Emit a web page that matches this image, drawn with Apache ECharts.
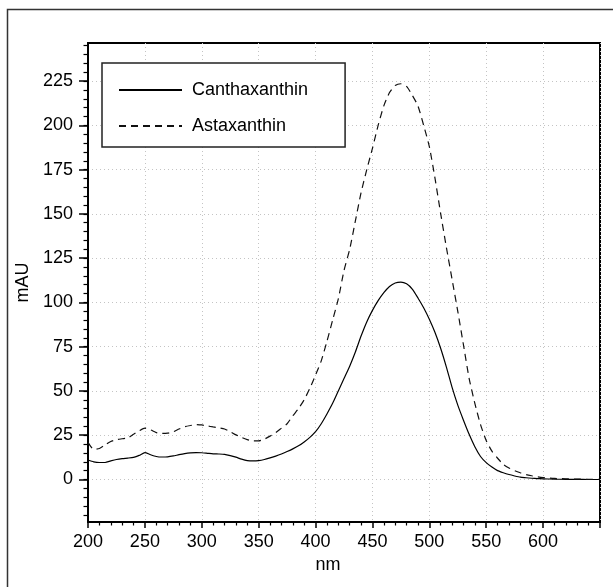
<!DOCTYPE html>
<html>
<head>
<meta charset="utf-8">
<script src="https://cdn.jsdelivr.net/npm/echarts@6/dist/echarts.min.js"></script>
<style>
  html, body { margin: 0; padding: 0; background: #fff; }
  #chart { width: 613px; height: 587px; }
</style>
</head>
<body>
<div id="chart"></div>
<script>
// wavelength grid (nm)
const wavelengths = [
  200, 205, 210, 215, 220, 225, 230, 235, 240, 245,
  250, 255, 260, 265, 270, 275, 280, 285, 290, 295,
  300, 305, 310, 315, 320, 325, 330, 335, 340, 345,
  350, 355, 360, 365, 370, 375, 380, 385, 390, 395,
  400, 405, 410, 415, 420, 425, 430, 435, 440, 445,
  450, 455, 460, 465, 470, 475, 480, 485, 490, 495,
  500, 505, 510, 515, 520, 525, 530, 535, 540, 545,
  550, 555, 560, 565, 570, 575, 580, 585, 590, 595,
  600, 610, 620, 630, 640, 650
];
// Canthaxanthin (solid), mAU
const canthaxanthin = [
  11, 10, 9.6, 9.6, 10.5, 11.3, 11.8, 12.1, 12.5, 13.6,
  15.2, 14, 13, 12.7, 12.8, 13.3, 14, 14.6, 15, 15.2,
  15.1, 14.8, 14.5, 14.4, 14.2, 13.5, 12.6, 11.5, 10.7, 10.5,
  10.7, 11.3, 12.2, 13.2, 14.4, 15.8, 17.3, 19, 21.2, 23.8,
  27, 31.5, 37, 43, 50, 57, 64, 72, 81, 89,
  95.5, 101, 105.5, 109, 111, 111.5, 110.5, 107.5, 102.5, 97,
  90.5, 83, 74, 63.5, 52, 42, 33.5, 25.5, 18.5, 13,
  9.5, 7, 5, 3.8, 2.8, 2, 1.3, 1, 0.7, 0.5,
  0.4, 0.2, 0.1, 0.05, 0, 0
];
// Astaxanthin (dashed), mAU
const astaxanthin = [
  21, 17, 17.5, 19.5, 21.5, 22.5, 23, 23.5, 25.5, 27.5,
  29, 28, 26.5, 26, 26.2, 27, 28.5, 29.8, 30.5, 31,
  30.8, 30.2, 29.7, 29.2, 28.5, 27, 25.2, 23.8, 22.5, 21.8,
  21.8, 22.8, 24.5, 26.5, 29, 31.5, 36, 40, 45, 51.5,
  59, 67, 78, 90, 102, 118, 130, 146, 162, 175,
  187, 200, 211, 218.5, 222.5, 223.5, 222, 217, 211, 200,
  188, 170, 150, 131, 113, 95, 76, 57, 43, 31,
  22, 16, 12, 8.5, 6.5, 5, 3.8, 2.8, 2.1, 1.5,
  1.1, 0.6, 0.4, 0.2, 0.1, 0
];
const seriesNames = ['Canthaxanthin', 'Astaxanthin'];
const yLabelValues = [0, 25, 50, 75, 100, 125, 150, 175, 200, 225];
const yMinorValues = [
  -20, -15, -10, -5, 0, 5, 10, 15, 20, 25, 30, 35, 40, 45, 50, 55, 60, 65, 70, 75,
  80, 85, 90, 95, 100, 105, 110, 115, 120, 125, 130, 135, 140, 145, 150, 155, 160,
  165, 170, 175, 180, 185, 190, 195, 200, 205, 210, 215, 220, 225, 230, 235, 240, 245
];

const FONT = "'Liberation Sans', Arial, sans-serif";
const FS = 18;

function pairs(ys) {
  return wavelengths.map((x, i) => [x, ys[i]]);
}

const chart = echarts.init(document.getElementById('chart'), null, { renderer: 'canvas' });

const dotted = { color: '#c4c4c4', width: 1, type: [1, 3] };

const option = {
  animation: false,
  backgroundColor: '#fff',
  textStyle: { fontFamily: FONT },
  graphic: [
    {
      type: 'rect',
      left: 5, top: 7,
      shape: { width: 700, height: 700 },
      style: { fill: 'none', stroke: '#333', lineWidth: 1.5 },
      silent: true
    }
  ],
  grid: {
    left: 88, right: 13, top: 43, bottom: 65,
    show: true, borderColor: '#000', borderWidth: 2,
    containLabel: false
  },
  legend: {
    orient: 'vertical',
    left: 102, top: 63,
    padding: [18, 37, 12, 16],
    itemWidth: 63, itemHeight: 14, itemGap: 18,
    backgroundColor: '#fff',
    borderColor: '#222', borderWidth: 1.5,
    data: seriesNames,
    itemStyle: { opacity: 0 },
    textStyle: { fontSize: FS, color: '#000', fontFamily: FONT, padding: [0, 0, 0, 5] }
  },
  xAxis: {
    type: 'value',
    min: 200, max: 650, interval: 50,
    name: 'nm',
    nameLocation: 'middle',
    nameGap: 30,
    nameTextStyle: { fontSize: FS, color: '#000', fontFamily: FONT, padding: [0, 32, 0, 0] },
    axisLine: { show: true, onZero: false, lineStyle: { color: '#000', width: 2 } },
    axisTick: { show: true, inside: false, length: 6, lineStyle: { color: '#000', width: 1.5 } },
    minorTick: { show: true, splitNumber: 5, length: 3.5, lineStyle: { color: '#000', width: 1.2 } },
    axisLabel: { fontSize: FS, color: '#000', fontFamily: FONT, margin: 11, showMaxLabel: false },
    splitLine: { show: true, lineStyle: dotted }
  },
  yAxis: [
    {
      type: 'value',
      min: -24, max: 246.5,
      position: 'left',
      name: 'mAU',
      nameLocation: 'middle',
      nameGap: 53,
      nameTextStyle: { fontSize: FS, color: '#000', fontFamily: FONT },
      axisLine: { show: true, onZero: false, lineStyle: { color: '#000', width: 2 } },
      axisTick: { show: true, inside: false, length: 4.5, customValues: yMinorValues, lineStyle: { color: '#000', width: 1.2 } },
      axisLabel: { fontSize: FS, color: '#000', fontFamily: FONT, margin: 15, customValues: yLabelValues },
      splitLine: { show: false }
    },
    {
      type: 'value',
      min: -24, max: 246.5,
      position: 'left',
      axisLine: { show: false },
      axisTick: { show: true, inside: false, length: 9, customValues: yLabelValues, lineStyle: { color: '#000', width: 1.5 } },
      axisLabel: { show: false },
      splitLine: { show: true, lineStyle: dotted }
    }
  ],
  series: [
    {
      name: seriesNames[0],
      type: 'line',
      yAxisIndex: 0,
      symbol: 'none',
      smooth: 0.2,
      data: pairs(canthaxanthin),
      lineStyle: { color: '#000', width: 1.2, type: 'solid' },
      itemStyle: { color: '#000' }
    },
    {
      name: seriesNames[1],
      type: 'line',
      yAxisIndex: 0,
      symbol: 'none',
      smooth: 0.2,
      data: pairs(astaxanthin),
      lineStyle: { color: '#111', width: 1.2, type: [7, 5] },
      itemStyle: { color: '#111' }
    }
  ]
};

chart.setOption(option);
</script>
</body>
</html>
